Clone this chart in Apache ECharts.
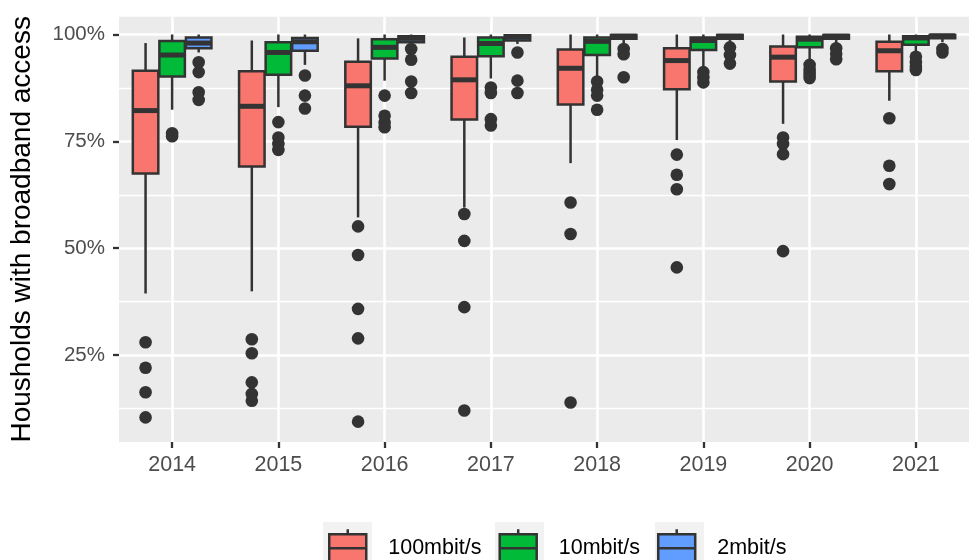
<!DOCTYPE html>
<html>
<head>
<meta charset="utf-8">
<script src="https://cdn.jsdelivr.net/npm/echarts@6/dist/echarts.min.js"></script>
<style>
html,body{margin:0;padding:0;background:#fff;}
#chart{width:969px;height:560px;}
</style>
</head>
<body>
<div id="chart"></div>
<script>
// ---- Data ----
const years = ['2014','2015','2016','2017','2018','2019','2020','2021'];
const yTicks = [25, 50, 75, 100];
const yMinor = [12.5, 37.5, 62.5, 87.5];
const speedNames = ['100mbit/s', '10mbit/s', '2mbit/s'];
const speedColors = ['#F8766D', '#00BA38', '#619CFF'];

// five-number summaries per year: [lower whisker, Q1, median, Q3, upper whisker]
const box100 = [
  [39.4, 67.5, 82.2, 91.5, 98.0],
  [39.9, 69.1, 83.2, 91.4, 98.6],
  [57.2, 78.4, 88.0, 93.6, 99.1],
  [59.5, 80.1, 89.4, 94.8, 99.3],
  [69.9, 83.6, 92.1, 96.5, 100],
  [75.3, 87.2, 93.9, 96.8, 100],
  [79.1, 89.0, 94.7, 97.2, 100],
  [84.5, 91.4, 96.2, 98.3, 100]
];
const box10 = [
  [82.4, 90.2, 95.2, 98.5, 100],
  [83.0, 90.6, 95.8, 98.2, 100],
  [89.2, 94.4, 97.0, 98.9, 100],
  [89.7, 94.9, 97.9, 99.3, 100],
  [90.0, 95.2, 98.4, 99.3, 100],
  [91.9, 96.4, 98.6, 99.3, 100],
  [93.9, 97.0, 98.9, 99.5, 100],
  [95.8, 97.6, 99.2, 99.6, 100]
];
const box2 = [
  [95.8, 96.8, 98.0, 99.3, 100],
  [92.9, 96.2, 98.3, 99.2, 100],
  [97.4, 98.2, 99.1, 99.6, 100],
  [97.8, 98.6, 99.4, 99.8, 100],
  [97.8, 99.0, 99.6, 99.9, 100],
  [98.0, 99.0, 99.6, 99.9, 100],
  [98.0, 99.0, 99.6, 99.9, 100],
  [98.2, 99.1, 99.7, 99.9, 100]
];
// outliers per year
const out100 = [
  [28.0, 22.0, 16.3, 10.4],
  [28.7, 25.4, 18.6, 15.9, 14.3],
  [55.1, 48.4, 35.8, 28.9, 9.4],
  [58.0, 51.7, 36.2, 12.0],
  [60.7, 53.3, 13.9],
  [71.9, 67.2, 63.8, 45.5],
  [75.9, 74.4, 72.0, 49.3],
  [80.4, 69.3, 65.0]
];
const out10 = [
  [76.9, 76.2],
  [79.5, 75.9, 74.4, 73.0],
  [85.7, 81.0, 79.4, 78.3],
  [87.6, 86.3, 80.2, 78.7],
  [89.0, 87.1, 85.7, 82.4],
  [91.2, 90.0, 88.8],
  [92.9, 92.0, 91.2, 90.5, 89.8],
  [94.8, 93.5, 92.5, 91.7]
];
const out2 = [
  [93.5, 91.2, 86.5, 84.7],
  [90.4, 85.7, 82.7],
  [96.6, 94.1, 89.0, 86.3],
  [95.8, 89.2, 86.3],
  [96.6, 95.4, 90.0],
  [97.0, 95.2, 93.2],
  [96.8, 95.5, 94.2],
  [96.6, 95.8]
];

// ---- Build ----
const FONT = "'Liberation Sans', Arial, Helvetica, sans-serif";
const LINE = '#333333';
const boxSets = [box100, box10, box2];
const outSets = [out100, out10, out2];

function makeBoxRender(k, color) {
  return function (params, api) {
    const band = api.size([1, 0])[0];
    const dx = k * band * 0.25;
    const hw = band * 0.12;
    const c = api.value(0);
    const P = (i) => api.coord([c, api.value(i)]);
    const lo = P(1), q1 = P(2), md = P(3), q3 = P(4), hi = P(5);
    const x = lo[0] + dx;
    const ls = { stroke: LINE, lineWidth: 2.5 };
    return {
      type: 'group',
      children: [
        { type: 'line', shape: { x1: x, y1: hi[1], x2: x, y2: q3[1] }, style: ls },
        { type: 'line', shape: { x1: x, y1: q1[1], x2: x, y2: lo[1] }, style: ls },
        { type: 'rect', shape: { x: x - hw, y: q3[1], width: 2 * hw, height: q1[1] - q3[1] },
          style: { fill: color, stroke: LINE, lineWidth: 2.5 } },
        { type: 'line', shape: { x1: x - hw, y1: md[1], x2: x + hw, y2: md[1] },
          style: { stroke: LINE, lineWidth: 5 } }
      ]
    };
  };
}
function makeOutRender(k) {
  return function (params, api) {
    const band = api.size([1, 0])[0];
    const dx = k * band * 0.25;
    const p = api.coord([api.value(0), api.value(1)]);
    return { type: 'circle', shape: { cx: p[0] + dx, cy: p[1], r: 6.3 },
             style: { fill: LINE } };
  };
}

const series = [];
// grid lines (below everything)
series.push({
  type: 'line', name: 'grid', data: [], silent: true,
  markLine: {
    silent: true, symbol: ['none', 'none'], z: 1, animation: false,
    label: { show: false },
    data: [
      ...yMinor.map(v => ({ yAxis: v, lineStyle: { color: '#ffffff', width: 1.3, type: 'solid' } })),
      ...yTicks.map(v => ({ yAxis: v, lineStyle: { color: '#ffffff', width: 2.6, type: 'solid' } })),
      ...years.map(y => ({ xAxis: y, lineStyle: { color: '#ffffff', width: 2.6, type: 'solid' } }))
    ]
  }
});
speedNames.forEach((name, s) => {
  const k = s - 1;
  series.push({
    type: 'custom', name: name, z: 3,
    renderItem: makeBoxRender(k, speedColors[s]),
    encode: { x: 0, y: [1, 2, 3, 4, 5] },
    data: boxSets[s].map((b, i) => [i, ...b])
  });
  const pts = [];
  outSets[s].forEach((arr, i) => arr.forEach(v => pts.push([i, v])));
  series.push({
    type: 'custom', name: name + ' outliers', z: 3,
    renderItem: makeOutRender(k),
    encode: { x: 0, y: 1 },
    data: pts
  });
});

const legendIcon = 'path://M0,5 H37 V33 H0 Z M0,19 H37 M18.5,0 V5 M18.5,33 V38';

// legend key backgrounds (ggplot legend.key fill)
const keyBgX = [323, 495, 655];

const option = {
  animation: false,
  backgroundColor: '#ffffff',
  graphic: keyBgX.map(x => ({
    type: 'rect', left: x, top: 522, z: -1, silent: true,
    shape: { width: 49, height: 49 }, style: { fill: '#F2F2F2' }
  })),
  grid: {
    left: 116.6, top: 16.7, width: 866.8, height: 425.3,
    show: true, backgroundColor: '#EBEBEB', borderWidth: 0
  },
  xAxis: {
    type: 'category', data: years, boundaryGap: true,
    axisLine: { show: false },
    axisTick: { show: true, alignWithLabel: true, length: 6, lineStyle: { color: LINE, width: 2.3 } },
    axisLabel: { color: '#4D4D4D', fontSize: 21.5, fontFamily: FONT, margin: 12 },
    splitLine: { show: false }
  },
  yAxis: {
    type: 'value', min: 4.64, max: 104.17,
    name: 'Housholds with broadband access',
    nameLocation: 'middle', nameGap: 83,
    nameTextStyle: { color: '#000000', fontSize: 28, fontFamily: FONT },
    axisLine: { show: false },
    axisTick: { show: true, length: 6, customValues: yTicks, lineStyle: { color: LINE, width: 2.3 } },
    axisLabel: { color: '#4D4D4D', fontSize: 20.5, fontFamily: FONT, margin: 14,
                 customValues: yTicks, formatter: v => v + '%' },
    splitLine: { show: false }
  },
  legend: {
    left: 328, top: 528, orient: 'horizontal', padding: 0,
    itemWidth: 37, itemHeight: 38, itemGap: 17,
    data: speedNames.map((n, s) => ({
      name: n, icon: legendIcon,
      itemStyle: { color: speedColors[s], borderColor: LINE, borderWidth: 2.5 }
    })),
    textStyle: { color: '#000000', fontSize: 21.5, fontFamily: FONT, padding: [0, 0, 0, 17] }
  },
  series: series
};

const chart = echarts.init(document.getElementById('chart'), null, { renderer: 'canvas' });
chart.setOption(option);
</script>
</body>
</html>
